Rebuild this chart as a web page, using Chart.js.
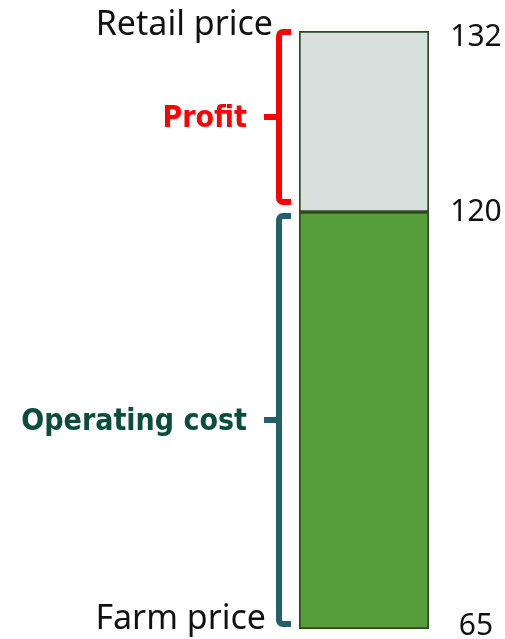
<!DOCTYPE html>
<html>
<head>
<meta charset="utf-8">
<title>Price breakdown</title>
<script src="https://cdn.jsdelivr.net/npm/chart.js@4.4.0/dist/chart.umd.min.js"></script>
<style>
  html, body { margin: 0; padding: 0; background: #fff; }
  #wrap { width: 505px; height: 639px; position: relative; }
</style>
</head>
<body>
<div id="wrap"><canvas id="priceChart"></canvas></div>
<script>
// price levels, bottom to top
const farmPrice = 65;
const costTop = 120;
const retailPrice = 132;

const segmentNames = ['Profit', 'Operating cost'];
const segmentRanges = [[costTop, retailPrice], [farmPrice, costTop]];
const segmentColors = ['#d7e0dc', '#559e3b'];
const braceColors = ['#ff0000', '#24606b'];
const nameColors = ['#ff0000', '#0b4d3c'];

const tickValues = [retailPrice, costTop, farmPrice];
const sideLabels = ['Retail price', 'Farm price'];

// draws the value numbers, end labels and the two braces
const bracePlugin = {
    id: 'braces',
    afterDatasetsDraw(chart) {
        const ctx = chart.ctx;
        const yTop = chart.scales.yTop;
        const yBottom = chart.scales.yBottom;
        const area = chart.chartArea;

        ctx.save();

        // numbers on the right
        ctx.fillStyle = '#111';
        ctx.font = '30px "Noto Sans"';
        ctx.textAlign = 'center';
        ctx.textBaseline = 'middle';
        tickValues.forEach(v => {
            const scale = v >= costTop ? yTop : yBottom;
            let y = scale.getPixelForValue(v);
            y = Math.min(Math.max(y, 37), 626);
            ctx.fillText(String(v), area.right + 47, y);
        });

        // end labels on the left
        ctx.font = '34px "Noto Sans"';
        ctx.textAlign = 'right';
        ctx.textBaseline = 'alphabetic';
        ctx.fillText(sideLabels[0], area.left - 26, yTop.getPixelForValue(retailPrice) + 4);
        ctx.fillText(sideLabels[1], area.left - 33, yBottom.getPixelForValue(farmPrice));

        // braces
        const spans = [
            [yTop.getPixelForValue(retailPrice) + 1, yTop.getPixelForValue(costTop) - 10],
            [yBottom.getPixelForValue(costTop) + 4, yBottom.getPixelForValue(farmPrice) - 5]
        ];
        const xLine = area.left - 20;
        const xHook = area.left - 8;
        const xTick = area.left - 35;
        spans.forEach((s, i) => {
            const [y0, y1] = s;
            const mid = (y0 + y1) / 2;
            ctx.strokeStyle = braceColors[i];
            ctx.lineWidth = 6;
            ctx.lineJoin = 'round';
            ctx.lineCap = 'butt';
            ctx.beginPath();
            ctx.moveTo(xHook, y0);
            ctx.arcTo(xLine, y0, xLine, y0 + 10, 4);
            ctx.lineTo(xLine, y1 - 10);
            ctx.arcTo(xLine, y1, xHook, y1, 4);
            ctx.lineTo(xHook, y1);
            ctx.stroke();
            ctx.beginPath();
            ctx.moveTo(xTick, mid);
            ctx.lineTo(xLine, mid);
            ctx.stroke();

            ctx.fillStyle = nameColors[i];
            ctx.font = 'bold 30px "DejaVu Sans Condensed", "DejaVu Sans"';
            ctx.textAlign = 'right';
            ctx.textBaseline = 'alphabetic';
            ctx.fillText(segmentNames[i], xTick - 17, mid + 10);
        });

        ctx.restore();
    }
};

new Chart(document.getElementById('priceChart'), {
    type: 'bar',
    data: {
        labels: ['price'],
        datasets: [
            {
                label: segmentNames[0],
                data: [segmentRanges[0]],
                yAxisID: 'yTop',
                backgroundColor: segmentColors[0],
                borderColor: '#2c4a1f',
                borderWidth: 2,
                borderSkipped: false,
                grouped: false,
                barPercentage: 1,
                categoryPercentage: 1
            },
            {
                label: segmentNames[1],
                data: [segmentRanges[1]],
                yAxisID: 'yBottom',
                backgroundColor: segmentColors[1],
                borderColor: '#2c4a1f',
                borderWidth: 2,
                borderSkipped: false,
                grouped: false,
                barPercentage: 1,
                categoryPercentage: 1
            }
        ]
    },
    options: {
        responsive: true,
        maintainAspectRatio: false,
        animation: false,
        layout: {
            padding: { left: 299, right: 76, top: 31, bottom: 10 }
        },
        plugins: {
            legend: { display: false },
            tooltip: { enabled: false }
        },
        scales: {
            x: { display: false },
            // left-hand stacks are laid out in reverse, so the lower band comes first;
            // the profit band is drawn taller than its share of the price
            yBottom: {
                type: 'linear',
                position: 'left',
                stack: 'price',
                stackWeight: 417,
                min: farmPrice,
                max: costTop,
                display: false
            },
            yTop: {
                type: 'linear',
                position: 'left',
                stack: 'price',
                stackWeight: 181,
                min: costTop,
                max: retailPrice,
                display: false
            }
        }
    },
    plugins: [bracePlugin]
});
</script>
</body>
</html>
